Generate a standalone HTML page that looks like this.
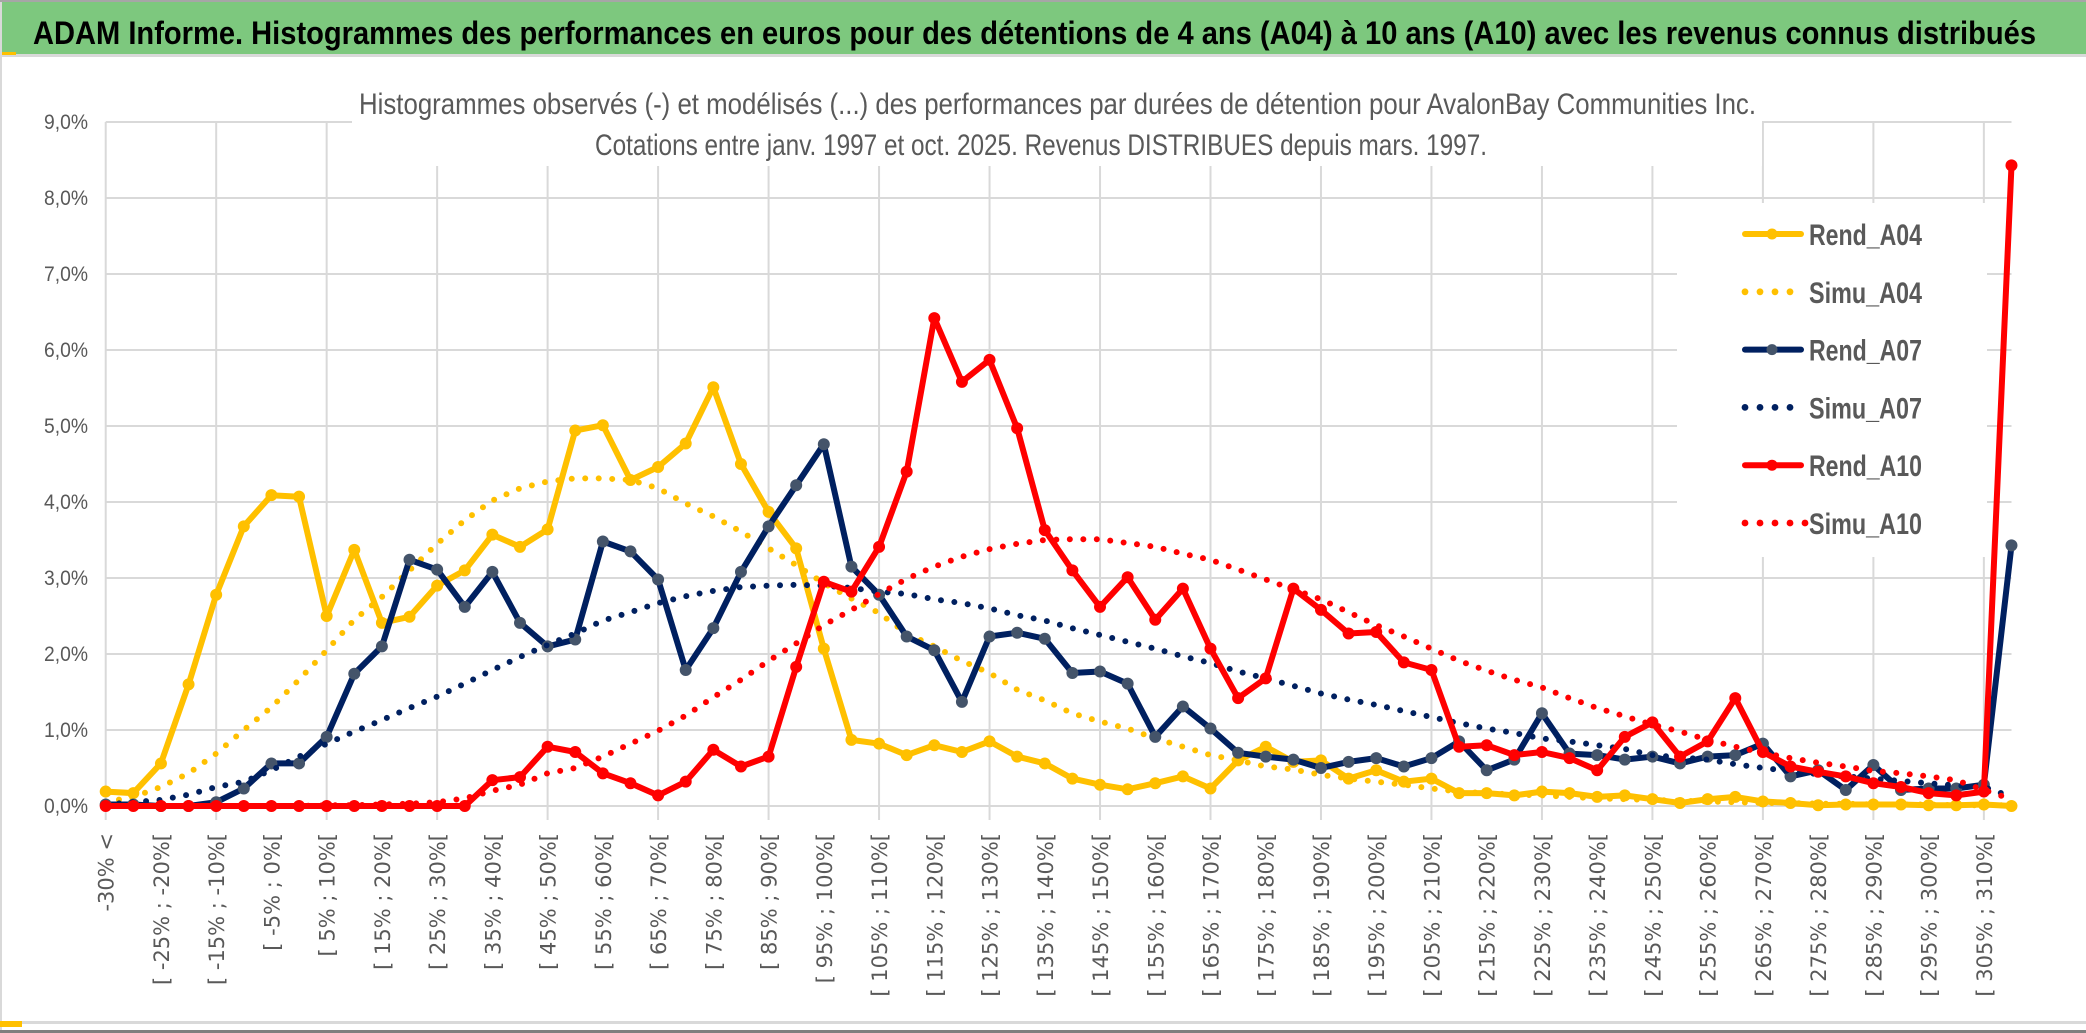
<!DOCTYPE html>
<html><head><meta charset="utf-8"><style>
html,body{margin:0;padding:0;background:#fff;}
svg{display:block;}
text{font-family:"Liberation Sans",sans-serif;}
</style></head><body>
<svg id="chart" width="2086" height="1033" viewBox="0 0 2086 1033" xmlns="http://www.w3.org/2000/svg">
<rect x="0" y="0" width="2086" height="1033" fill="#fff"/>
<rect x="0" y="0" width="2086" height="2" fill="#a6a6a6"/>
<rect x="0" y="2" width="2086" height="52" fill="#7dc87e"/>
<text x="33" y="44" font-size="32" font-weight="bold" fill="#000" textLength="2003" lengthAdjust="spacingAndGlyphs">ADAM Informe. Histogrammes des performances en euros pour des détentions de 4 ans (A04) à 10 ans (A10) avec les revenus connus distribués</text>
<rect x="0" y="54" width="2086" height="3" fill="#d9d9d9"/>
<rect x="0" y="52" width="16" height="3" fill="#ffc000"/>
<rect x="0" y="2" width="2" height="1030" fill="#d9d9d9"/>
<g id="grid"></g>
<rect x="352" y="82" width="1410" height="84" fill="#fff"/>
<text x="359" y="114" font-size="30" fill="#595959" textLength="1397" lengthAdjust="spacingAndGlyphs">Histogrammes observés (-) et modélisés (...) des performances par durées de détention pour AvalonBay Communities Inc.</text>
<text x="595" y="155" font-size="30" fill="#595959" textLength="892" lengthAdjust="spacingAndGlyphs">Cotations entre janv. 1997 et oct. 2025. Revenus DISTRIBUES depuis mars. 1997.</text>
<g id="yaxis"></g>
<g id="xaxis"></g>
<g id="series"></g>
<g id="legend">
<rect x="1677" y="203" width="310" height="354" fill="#fff"/>
</g>
<rect x="0" y="1021" width="2086" height="3" fill="#d9d9d9"/>
<rect x="0" y="1021" width="22" height="6" fill="#ffc000"/>
<rect x="0" y="1030" width="2086" height="3" fill="#7f7f7f"/>
</svg>
<script>
const yTicks = [0,1,2,3,4,5,6,7,8,9];
const yTickLabels = ["0,0%","1,0%","2,0%","3,0%","4,0%","5,0%","6,0%","7,0%","8,0%","9,0%"];
const lowerBounds = [-30,-25,-20,-15,-10,-5,0,5,10,15,20,25,30,35,40,45,50,55,60,65,70,75,80,85,90,95,100,105,110,115,120,125,130,135,140,145,150,155,160,165,170,175,180,185,190,195,200,205,210,215,220,225,230,235,240,245,250,255,260,265,270,275,280,285,290,295,300,305];
const categories = ["-30% <"].concat(lowerBounds.map(v => "[ " + v + "% ; " + (v + 5) + "%[")).concat(["310% >"]);
const rendA04 = [0.19,0.17,0.56,1.6,2.78,3.68,4.09,4.07,2.5,3.37,2.41,2.49,2.9,3.1,3.57,3.41,3.64,4.94,5.01,4.29,4.46,4.77,5.51,4.5,3.87,3.39,2.07,0.87,0.82,0.67,0.8,0.71,0.85,0.65,0.56,0.36,0.28,0.22,0.3,0.39,0.23,0.6,0.78,0.58,0.6,0.36,0.47,0.32,0.36,0.17,0.17,0.14,0.19,0.17,0.12,0.14,0.09,0.04,0.09,0.12,0.06,0.04,0.01,0.02,0.02,0.02,0.01,0.01,0.02,0.0];
const simuA04 = [0.05,0.12,0.25,0.43,0.69,1.0,1.3,1.66,2.05,2.45,2.75,3.1,3.45,3.76,4.02,4.18,4.27,4.31,4.31,4.29,4.18,3.98,3.81,3.61,3.39,3.17,2.93,2.73,2.54,2.27,2.1,1.91,1.75,1.53,1.39,1.22,1.11,1.02,0.89,0.78,0.67,0.6,0.52,0.48,0.41,0.36,0.32,0.28,0.23,0.19,0.17,0.15,0.14,0.12,0.1,0.09,0.08,0.07,0.06,0.05,0.04,0.04,0.03,0.03,0.02,0.02,0.02,0.01,0.01,0.01];
const rendA07 = [0.02,0.02,0.0,0.0,0.05,0.23,0.56,0.56,0.91,1.74,2.1,3.24,3.11,2.62,3.08,2.41,2.1,2.19,3.48,3.35,2.98,1.79,2.34,3.08,3.68,4.22,4.76,3.15,2.78,2.23,2.05,1.37,2.23,2.28,2.2,1.75,1.77,1.61,0.91,1.31,1.02,0.7,0.65,0.61,0.5,0.58,0.63,0.52,0.63,0.85,0.47,0.61,1.22,0.69,0.67,0.61,0.65,0.56,0.65,0.67,0.82,0.39,0.47,0.21,0.54,0.21,0.23,0.23,0.28,3.43];
const simuA07 = [0.02,0.05,0.08,0.15,0.25,0.32,0.47,0.65,0.82,0.98,1.13,1.29,1.44,1.61,1.79,1.96,2.12,2.27,2.44,2.55,2.67,2.76,2.83,2.88,2.9,2.91,2.9,2.87,2.82,2.79,2.72,2.67,2.6,2.51,2.44,2.34,2.25,2.16,2.07,1.97,1.88,1.77,1.68,1.58,1.48,1.4,1.33,1.25,1.17,1.09,1.02,0.96,0.89,0.85,0.8,0.75,0.67,0.64,0.61,0.55,0.5,0.46,0.42,0.39,0.36,0.33,0.3,0.27,0.25,0.12];
const rendA10 = [0,0,0,0,0,0,0,0,0,0,0,0,0,0,0.34,0.38,0.78,0.71,0.43,0.3,0.14,0.32,0.74,0.52,0.65,1.83,2.95,2.82,3.41,4.4,6.42,5.58,5.87,4.97,3.63,3.1,2.62,3.01,2.45,2.86,2.07,1.42,1.68,2.86,2.58,2.27,2.29,1.89,1.79,0.78,0.8,0.67,0.71,0.63,0.47,0.91,1.1,0.65,0.85,1.42,0.71,0.52,0.45,0.39,0.3,0.25,0.17,0.14,0.19,8.43];
const simuA10 = [0,0,0,0,0,0,0,0,0.01,0.01,0.02,0.03,0.05,0.1,0.2,0.28,0.43,0.5,0.65,0.82,0.99,1.19,1.43,1.66,1.91,2.14,2.38,2.58,2.79,2.99,3.15,3.28,3.38,3.45,3.5,3.51,3.51,3.46,3.41,3.32,3.24,3.11,2.98,2.85,2.72,2.55,2.38,2.23,2.07,1.91,1.78,1.66,1.56,1.42,1.29,1.18,1.07,0.98,0.87,0.78,0.7,0.63,0.57,0.52,0.46,0.43,0.39,0.34,0.21,0.09];

const NS = "http://www.w3.org/2000/svg";
const X0 = 105.7, XSTEP = 27.62, Y0 = 806, YPER = 76;
function xPos(i){ return X0 + i * XSTEP; }
function yPos(v){ return Y0 - v * YPER; }
function mk(tag, attrs, parent){
  const e = document.createElementNS(NS, tag);
  for (const k in attrs) e.setAttribute(k, attrs[k]);
  parent.appendChild(e);
  return e;
}
const grid = document.getElementById('grid');
const xEnd = xPos(categories.length - 1);
yTicks.forEach(t => {
  const l = mk('line', {x1: X0, x2: xEnd, y1: yPos(t), y2: yPos(t), stroke: '#d9d9d9', 'stroke-width': 2}, grid);
  
  
});
for (let i = 0; i < categories.length; i += 4) {
  const l = mk('line', {x1: xPos(i), x2: xPos(i), y1: yPos(9), y2: yPos(0) + 14, stroke: '#d9d9d9', 'stroke-width': 2}, grid);
  
  
}
const yaxis = document.getElementById('yaxis');
yTicks.forEach((t, k) => {
  const tx = mk('text', {x: 88, y: yPos(t) + 7, 'text-anchor': 'end', 'font-size': 21, fill: '#595959', textLength: 44, lengthAdjust: 'spacingAndGlyphs'}, yaxis);
  tx.textContent = yTickLabels[k];
  
  
});
const xaxis = document.getElementById('xaxis');
for (let i = 0; i < categories.length - 1; i += 2) {
  const px = xPos(i) + 8, py = 833;
  const tx = mk('text', {x: px, y: py, 'text-anchor': 'end', 'font-size': 21, fill: '#595959', transform: 'rotate(-90 ' + px + ' ' + py + ')', style: 'font-family:"DejaVu Sans",sans-serif'}, xaxis);
  tx.textContent = categories[i];
  
  
}
const series = document.getElementById('series');
function pts(arr){ return arr.map((v, i) => xPos(i).toFixed(1) + ',' + yPos(v).toFixed(1)).join(' '); }
function drawRend(arr, color, mfill, name){
  const g = mk('g', {}, series);
  
  
  const pl = mk('polyline', {points: pts(arr), fill: 'none', stroke: color, 'stroke-width': 6, 'stroke-linejoin': 'round'}, g);
  
  
  arr.forEach((v, i) => {
    const c = mk('circle', {cx: xPos(i), cy: yPos(v), r: 5.5, fill: mfill, stroke: mfill, 'stroke-width': 1}, g);
    
    
  });
}
function drawSimu(arr, color, name){
  const pl = mk('polyline', {points: pts(arr), fill: 'none', stroke: color, 'stroke-width': 6, 'stroke-linecap': 'round', 'stroke-dasharray': '0 13.5'}, series);
  
  
}
drawRend(rendA04, '#ffc000', '#ffc000', 'rend-a04');
drawSimu(simuA04, '#ffc000', 'simu-a04');
drawRend(rendA07, '#002060', '#44546a', 'rend-a07');
drawSimu(simuA07, '#002060', 'simu-a07');
drawRend(rendA10, '#ff0000', '#ff0000', 'rend-a10');
drawSimu(simuA10, '#ff0000', 'simu-a10');

const legend = document.getElementById('legend');
const legendNames = ['Rend_A04','Simu_A04','Rend_A07','Simu_A07','Rend_A10','Simu_A10'];
const legendColors = ['#ffc000','#ffc000','#002060','#002060','#ff0000','#ff0000'];
const legendMarkers = ['#ffc000',null,'#44546a',null,'#ff0000',null];
legendNames.forEach((n, k) => {
  const cy = 234 + k * 57.8;
  const g = mk('g', {}, legend);
  
  
  if (legendMarkers[k]) {
    mk('line', {x1: 1745, x2: 1801, y1: cy, y2: cy, stroke: legendColors[k], 'stroke-width': 6, 'stroke-linecap': 'round'}, g);
    mk('circle', {cx: 1772, cy: cy, r: 5.5, fill: legendMarkers[k]}, g);
  } else {
    const n2 = k === 5 ? 5 : 4;
    for (let d = 0; d < n2; d++) mk('circle', {cx: 1745 + d * 15, cy: cy, r: 3.4, fill: legendColors[k]}, g);
  }
  const tx = mk('text', {x: 1809, y: cy + 11, 'font-size': 30, 'font-weight': 'bold', fill: '#595959', textLength: 113, lengthAdjust: 'spacingAndGlyphs'}, g);
  tx.textContent = n;
});
</script>
</body></html>
